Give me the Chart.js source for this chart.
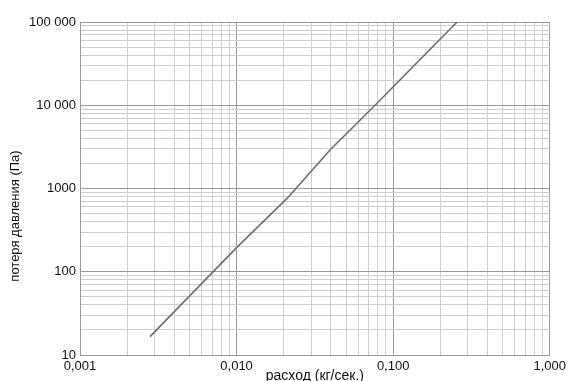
<!DOCTYPE html>
<html>
<head>
<meta charset="utf-8">
<script src="https://cdn.jsdelivr.net/npm/chart.js@4.4.1/dist/chart.umd.min.js"></script>
<style>
  html, body { margin: 0; padding: 0; background: #fff; }
  #wrap { width: 570px; height: 381px; position: relative; }
</style>
</head>
<body>
<div id="wrap"><canvas id="lossChart"></canvas></div>
<script>
// values
const flow = [0.0028, 0.01, 0.021, 0.0395, 0.0786, 0.256];
const pressureLoss = [16.6, 195, 760, 2900, 10500, 100000];

// axis decades and their printed labels
const xDecades = [0.001, 0.01, 0.1, 1];
const xTickLabels = ['0,001', '0,010', '0,100', '1,000'];
const yDecades = [10, 100, 1000, 10000, 100000];
const yTickLabels = ['10', '100', '1000', '10 000', '100 000'];

const xTitle = 'расход (кг/сек.)';
const yTitle = 'потеря давления (Па)';

// 1..9 inside each decade, for the grid
function gridValues(decades) {
    let vals = [];
    decades.forEach((d, i) => {
        if (i === decades.length - 1) { vals.push(d); return; }
        for (let k = 1; k <= 9; k++) vals.push(+(d * k).toPrecision(6));
    });
    return vals;
}

function decadeIndex(value, decades) {
    return decades.findIndex(d => Math.abs(Math.log10(value) - Math.log10(d)) < 1e-6);
}

const family = 'Liberation Sans, Arial, sans-serif';

// y title sits a bit below the middle of the axis in the scan
const yTitlePlugin = {
    id: 'yTitle',
    afterDraw(chart) {
        const c = chart.ctx;
        c.save();
        c.translate(15, 216);
        c.rotate(-Math.PI / 2);
        c.font = '13px ' + family;
        c.fillStyle = '#111';
        c.textAlign = 'center';
        c.textBaseline = 'middle';
        c.fillText(yTitle, 0, 0);
        c.restore();
    }
};

let ctx = document.getElementById('lossChart').getContext('2d');
let lossChart = new Chart(ctx, {
    type: 'line',
    data: {
        datasets: [{
            data: flow.map((x, i) => ({ x: x, y: pressureLoss[i] })),
            borderColor: '#6e6e6e',
            borderWidth: 1.6,
            pointRadius: 0,
            tension: 0
        }]
    },
    plugins: [yTitlePlugin],
    options: {
        responsive: true,
        maintainAspectRatio: false,
        animation: false,
        layout: { padding: { top: 22, right: 20, bottom: 0, left: 0 } },
        plugins: { legend: { display: false }, tooltip: { enabled: false } },
        scales: {
            x: {
                type: 'logarithmic',
                min: 0.001,
                max: 1,
                afterBuildTicks: s => { s.ticks = gridValues(xDecades).map(v => ({ value: v })); },
                afterFit: s => { s.height = 26; },
                grid: {
                    drawTicks: false,
                    color: c => decadeIndex(c.tick.value, xDecades) >= 0 ? '#9a9a9a' : '#cfcfcf',
                    lineWidth: 1
                },
                border: { color: '#9a9a9a' },
                ticks: {
                    autoSkip: false,
                    maxRotation: 0,
                    padding: 4,
                    color: '#111',
                    font: { family: family, size: 13 },
                    callback: (v) => {
                        let i = decadeIndex(v, xDecades);
                        return i >= 0 ? xTickLabels[i] : '';
                    }
                },
                title: {
                    display: true,
                    text: xTitle,
                    color: '#111',
                    font: { family: family, size: 14 },
                    padding: { top: 0, bottom: -4 }
                }
            },
            y: {
                type: 'logarithmic',
                min: 10,
                max: 100000,
                afterBuildTicks: s => { s.ticks = gridValues(yDecades).map(v => ({ value: v })); },
                afterFit: s => { s.width = 80; },
                grid: {
                    drawTicks: false,
                    color: c => decadeIndex(c.tick.value, yDecades) >= 0 ? '#9a9a9a' : '#cfcfcf',
                    lineWidth: 1
                },
                border: { color: '#9a9a9a' },
                ticks: {
                    autoSkip: false,
                    padding: 4,
                    color: '#111',
                    font: { family: family, size: 13 },
                    callback: (v) => {
                        let i = decadeIndex(v, yDecades);
                        return i >= 0 ? yTickLabels[i] : '';
                    }
                }
            }
        }
    }
});
</script>
</body>
</html>
